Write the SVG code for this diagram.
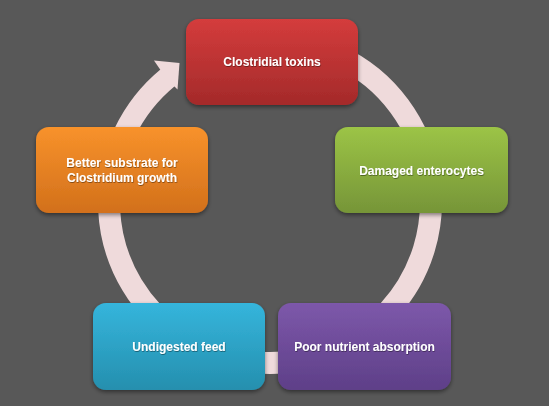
<svg xmlns="http://www.w3.org/2000/svg" width="549" height="406" viewBox="0 0 549 406">
  <defs>
    <linearGradient id="gRed" x1="0" y1="0" x2="0" y2="1">
      <stop offset="0" stop-color="#d43c3c"/>
      <stop offset="1" stop-color="#a42a2a"/>
    </linearGradient>
    <linearGradient id="gGreen" x1="0" y1="0" x2="0" y2="1">
      <stop offset="0" stop-color="#9cc446"/>
      <stop offset="1" stop-color="#769538"/>
    </linearGradient>
    <linearGradient id="gOrange" x1="0" y1="0" x2="0" y2="1">
      <stop offset="0" stop-color="#f8922b"/>
      <stop offset="1" stop-color="#d2701b"/>
    </linearGradient>
    <linearGradient id="gBlue" x1="0" y1="0" x2="0" y2="1">
      <stop offset="0" stop-color="#35b5dc"/>
      <stop offset="1" stop-color="#258fae"/>
    </linearGradient>
    <linearGradient id="gPurple" x1="0" y1="0" x2="0" y2="1">
      <stop offset="0" stop-color="#7d58aa"/>
      <stop offset="1" stop-color="#5e3f88"/>
    </linearGradient>
    <filter id="shadow" x="-10%" y="-10%" width="120%" height="130%">
      <feDropShadow dx="0" dy="2" stdDeviation="2" flood-color="#000" flood-opacity="0.45"/>
    </filter>
    <filter id="tshadow" x="-5%" y="-20%" width="110%" height="150%">
      <feDropShadow dx="0.5" dy="1" stdDeviation="0.6" flood-color="#000" flood-opacity="0.4"/>
    </filter>
  </defs>
  <style>
    .node rect { filter: url(#shadow); }
    .node text { font-family: "Liberation Sans", Arial, sans-serif; font-size: 12px; font-weight: bold; fill: #ffffff; text-anchor: middle; filter: url(#tshadow); }
    .ring { fill: none; stroke: #efdadb; stroke-width: 22; }
    .head { fill: #efdadb; }
  </style>
  <rect x="0" y="0" width="549" height="406" fill="#585858"/>

  <g id="connectors">
    <path class="ring" d="M 270 41 A 161 161 0 1 1 168.0 77.4"/>
    <polygon class="head" points="154,60.4 179.5,63 177.5,89.5 166,78"/>
  </g>

  <g id="node-toxins" class="node">
    <rect x="186" y="19" width="172" height="86" rx="13" fill="url(#gRed)"/>
    <text x="272" y="66">Clostridial toxins</text>
  </g>
  <g id="node-enterocytes" class="node">
    <rect x="335" y="127" width="173" height="86" rx="13" fill="url(#gGreen)"/>
    <text x="421.5" y="175">Damaged enterocytes</text>
  </g>
  <g id="node-absorption" class="node">
    <rect x="278" y="303" width="173" height="87" rx="13" fill="url(#gPurple)"/>
    <text x="364.5" y="351">Poor nutrient absorption</text>
  </g>
  <g id="node-feed" class="node">
    <rect x="93" y="303" width="172" height="87" rx="13" fill="url(#gBlue)"/>
    <text x="179" y="351">Undigested feed</text>
  </g>
  <g id="node-substrate" class="node">
    <rect x="36" y="127" width="172" height="86" rx="13" fill="url(#gOrange)"/>
    <text x="122" y="167">Better substrate for</text>
    <text x="122" y="181.5">Clostridium growth</text>
  </g>
</svg>
